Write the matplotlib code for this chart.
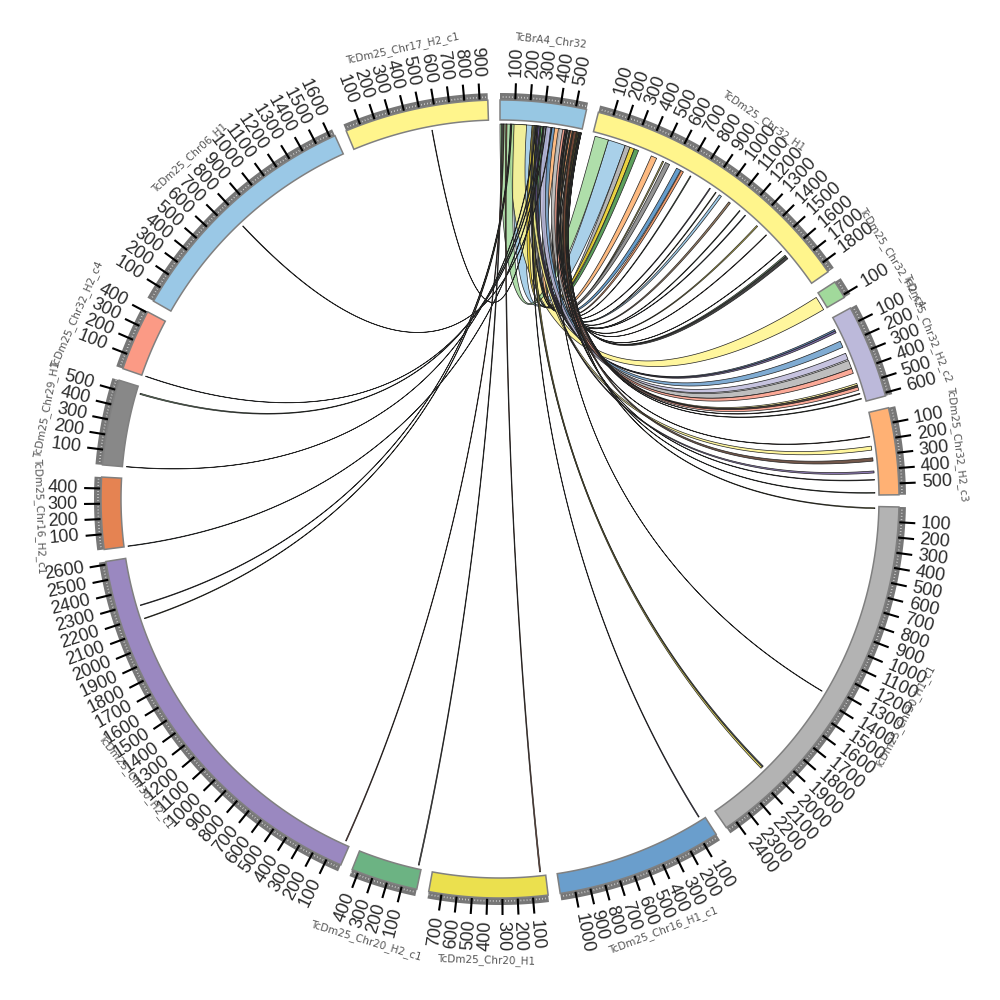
import matplotlib
matplotlib.use("Agg")
import matplotlib.pyplot as plt
import numpy as np
from matplotlib.colors import to_rgba


sector_names = [
	"TcBrA4_Chr32", "TcDm25_Chr32_H1", "TcDm25_Chr32_H2_c4", "TcDm25_Chr32_H2_c2",
	"TcDm25_Chr32_H2_c3", "TcDm25_Chr30_H1_c1", "TcDm25_Chr16_H1_c1", "TcDm25_Chr20_H1",
	"TcDm25_Chr20_H2_c1", "TcDm25_Chr30_H2_c1", "TcDm25_Chr16_H2_c1", "TcDm25_Chr29_H1",
	"TcDm25_Chr32_H2_c4", "TcDm25_Chr06_H1", "TcDm25_Chr17_H2_c1",
]
sector_lengths = [571, 1870, 119, 621, 575, 2475, 1100, 785, 443, 2620, 475, 566, 406, 1634, 954]
sector_colors = [
	"#97c7e3", "#fff58c", "#a1d99b", "#bcb9da", "#ffb174", "#b3b3b3", "#6a9ecc", "#ebe04e",
	"#6cb383", "#9a88c0", "#e58352", "#888888", "#fb9a85", "#9ac8e6", "#fff58c",
]
tick_tops = [500, 1800, 100, 600, 500, 2400, 1000, 700, 400, 2600, 400, 500, 400, 1600, 900]

# target sector, target start, target end, source start, source end, colour
rib_sector = [
	1, 2, 1, 1, 1, 1, 1, 1, 1, 1, 1, 1, 1, 1, 1, 1, 1, 1, 1, 1, 1, 1, 1,
	3, 3, 3, 3, 3, 3, 3, 3, 3, 3, 3,
	4, 4, 4, 4, 4, 4,
	5, 5, 5, 5,
	6, 7, 8, 9, 9, 9, 10, 11, 11, 12, 13, 14,
]
rib_t0 = [
	115, 20, 19, 238, 274, 306, 434, 520, 543, 630, 666, 739, 899, 949, 981, 1063, 1159, 1209, 1318, 1410, 1565, 1604, 1614,
	78, 90, 169, 261, 315, 375, 485, 498, 511, 557, 594,
	165, 233, 315, 407, 466, 557,
	9, 1351, 2018, 2027,
	33, 32, 18, 31, 2278, 2182, 0, 0, 515, 0, 772, 556,
]
rib_t1 = [
	238, 119, 115, 274, 306, 338, 475, 529, 575, 662, 684, 745, 905, 954, 999, 1077, 1164, 1214, 1327, 1414, 1568, 1614, 1635,
	90, 104, 215, 306, 375, 411, 498, 511, 534, 562, 599,
	169, 261, 338, 421, 471, 562,
	15, 1354, 2027, 2040,
	39, 40, 25, 37, 2283, 2187, 4, 3, 523, 3, 776, 560,
]
rib_s0 = [
	103, 70, 0, 470, 225, 286, 377, 485, 310, 320, 495, 506, 263, 521, 351, 531, 545, 361, 547, 555, 559, 562, 567,
	256, 270, 336, 310, 409, 439, 562, 570, 516, 552, 562,
	470, 231, 516, 268, 454, 485,
	537, 464, 237, 246,
	258, 41, 10, 23, 72, 78, 320, 250, 280, 300, 360, 300,
]
rib_s1 = [
	225, 186, 98, 495, 256, 318, 418, 493, 330, 336, 514, 512, 269, 526, 369, 545, 550, 366, 556, 559, 562, 567, 571,
	268, 286, 383, 355, 469, 475, 570, 571, 537, 557, 567,
	474, 256, 537, 279, 459, 490,
	543, 468, 246, 258,
	263, 49, 17, 29, 76, 83, 324, 254, 286, 305, 364, 304,
]
rib_colors = [
	"#9ac8e6", "#fff58c", "#a1d99b", "#a8a8a8", "#e6c91e", "#3f8f3f", "#fdae6b", "#b5a93a", "#808080", "#4a8cc4", "#f08a50",
	"#5c8a5c", "#7a63a8", "#b5a93a", "#8fc4e6", "#8a6a4a", "#3f8f5f", "#3b78b5", "#d8c830", "#e0806a", "#333333",
	"#5c8a5c", "#222222",
	"#4a7fb8", "#6a58a0", "#6a9ecc", "#bcb9da", "#b3b3b3", "#fb9a85", "#fff58c", "#4a3a2a", "#fb9a85", "#8a4a2a", "#5c8a5c",
	"#8a4a2a", "#fff58c", "#5a3a2a", "#7a63a8", "#808080", "#5c8a5c",
	"#9a9a30", "#333333", "#334466", "#e6d84a",
	"#5a4f90", "#8a3f25", "#555555", "#d0604a", "#555577", "#9a9a30", "#5a8aa0", "#333333", "#5c8a5c", "#4a7fb8", "#333333", "#5a3a2a",
]

GAP = 1.75
R_IN = 379
R_OUT = 399
R_BAND = 406
R_RIB = 375
R_CTRL = 140
R_TICK = 416
R_TLAB = 422
R_NAME = 461

scale = (360 - GAP * len(sector_lengths)) / sum(sector_lengths)
sector_starts = []
pos = 0
for length in sector_lengths:
	sector_starts.append(pos)
	pos += length * scale + GAP


def xy(radius, angle):
	a = np.radians(angle)
	return radius * np.sin(a), radius * np.cos(a)


def arc(radius, a0, a1, n=60):
	return xy(radius, np.linspace(a0, a1, n))


def bezier(a0, a1):
	t = np.linspace(0, 1, 80)
	x0, y0 = xy(R_RIB, a0)
	x1, y1 = xy(R_CTRL, a0)
	x2, y2 = xy(R_CTRL, a1)
	x3, y3 = xy(R_RIB, a1)
	b = [(1 - t)**3, 3 * t * (1 - t)**2, 3 * t**2 * (1 - t), t**3]
	return b[0] * x0 + b[1] * x1 + b[2] * x2 + b[3] * x3, b[0] * y0 + b[1] * y1 + b[2] * y2 + b[3] * y3


fig = plt.figure(figsize=(10, 10), dpi=100)
ax = fig.add_axes([0, 0, 1, 1])
ax.set_xlim(-500, 500)
ax.set_ylim(-501, 499)
ax.axis("off")

# ribbons first, everything else sits outside them
for k in range(len(rib_sector)):
	start = sector_starts[rib_sector[k]]
	s0 = rib_s0[k] * scale
	s1 = rib_s1[k] * scale
	t0 = start + rib_t0[k] * scale
	t1 = start + rib_t1[k] * scale
	xs = np.concatenate([arc(R_RIB, s0, s1)[0], bezier(s1, t0)[0], arc(R_RIB, t0, t1)[0], bezier(t1, s0)[0]])
	ys = np.concatenate([arc(R_RIB, s0, s1)[1], bezier(s1, t0)[1], arc(R_RIB, t0, t1)[1], bezier(t1, s0)[1]])
	ax.fill(xs, ys, facecolor=to_rgba(rib_colors[k], 0.85), edgecolor="#222222", linewidth=0.5, zorder=2 + k * 0.01)

for i, name in enumerate(sector_names):
	a0 = sector_starts[i]
	a1 = a0 + sector_lengths[i] * scale

	# tick band
	ox, oy = arc(R_BAND, a0, a1)
	ix, iy = arc(R_OUT, a1, a0)
	ax.fill(np.concatenate([ox, ix]), np.concatenate([oy, iy]), color="#777777", linewidth=0, zorder=3)

	# minor ticks show up as white specks in the band
	for v in range(20, sector_lengths[i], 20):
		if v % 100 == 0:
			continue
		x0, y0 = xy(R_OUT + 2.5, a0 + v * scale)
		x1, y1 = xy(R_OUT + 3.5, a0 + v * scale)
		ax.plot([x0, x1], [y0, y1], color="white", linewidth=0.5, alpha=0.8, zorder=4)

	# ideogram
	ox, oy = arc(R_OUT, a0, a1)
	ix, iy = arc(R_IN, a1, a0)
	ax.fill(np.concatenate([ox, ix]), np.concatenate([oy, iy]), facecolor=sector_colors[i],
		edgecolor="#808080", linewidth=1.1, zorder=5)

	for v in range(100, tick_tops[i] + 1, 100):
		a = a0 + v * scale
		x0, y0 = xy(R_OUT + 1, a)
		x1, y1 = xy(R_TICK, a)
		ax.plot([x0, x1], [y0, y1], color="black", linewidth=1.5, solid_capstyle="butt", zorder=6)
		tx, ty = xy(R_TLAB, a)
		if a <= 180:
			ax.text(tx, ty, str(v), rotation=90 - a, rotation_mode="anchor", ha="left", va="center",
				family="Liberation Sans", fontsize=13, color="#2a2a2a", zorder=7)
		else:
			ax.text(tx, ty, str(v), rotation=270 - a, rotation_mode="anchor", ha="right", va="center",
				family="Liberation Sans", fontsize=13, color="#2a2a2a", zorder=7)

	mid = (a0 + a1) / 2
	tx, ty = xy(R_NAME, mid)
	if mid < 90 or mid >= 270:
		rot = -mid
	else:
		rot = 180 - mid
	ax.text(tx, ty, name, rotation=rot, rotation_mode="anchor", ha="center", va="center",
		fontsize=7.5, color="#555555", zorder=7)

plt.savefig("out.png", dpi=100)
plt.close()
